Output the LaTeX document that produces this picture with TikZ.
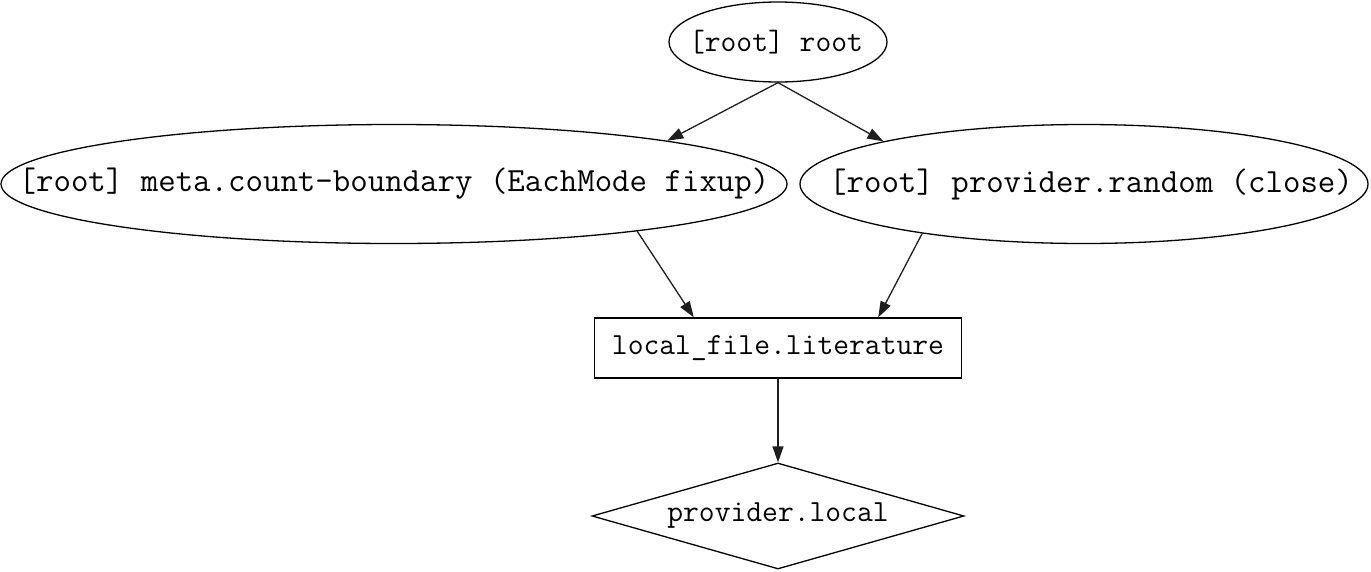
\documentclass[tikz,border=0pt]{standalone}
\usepackage{fontspec}
\usetikzlibrary{shapes.geometric,arrows.meta}
\tikzset{
  base/.style={draw, line width=1.3pt, inner sep=0pt},
  ell/.style={base, ellipse},
  edge/.style={line width=1.3pt, draw=black!88, -{Triangle[length=16pt,width=11pt]}},
  fA/.style={font=\ttfamily\fontsize{30.7}{36}\selectfont},
  fB/.style={font=\ttfamily\fontsize{33.9}{39}\selectfont},
  fC/.style={font=\ttfamily\fontsize{30.7}{36}\selectfont},
}
\begin{document}
\begin{tikzpicture}[x=1pt,y=-1pt]
\useasboundingbox (0,0) rectangle (1371,571);
\node[ell, minimum width=218pt, minimum height=80pt,
      label={[fA, xshift=-2pt]center:[root] root}] (root) at (778,42) {};
\node[ell, minimum width=786pt, minimum height=119pt,
      label={[fB]center:[root] meta.count-boundary (EachMode fixup)}] (meta) at (394,184) {};
\node[ell, minimum width=568pt, minimum height=119pt,
      label={[fB, xshift=7pt]center:[root] provider.random (close)}] (random) at (1084,184) {};
\node[base, rectangle, minimum width=367pt, minimum height=60pt, fC] (lit) at (778,348) {local\_file.literature};
\node[base, diamond, shape aspect=3.5, minimum width=372pt, minimum height=106pt, fC] (local) at (778,516) {provider.local};
\draw[edge] (root.south) -- (meta.9.3);
\draw[edge] (root.south) -- (random.168.6);
\draw[edge] (meta.-11.4) -- (lit.160.6);
\draw[edge] (random.197) -- (lit.17.4);
\draw[edge] (lit.south) -- (local.north);
\end{tikzpicture}
\end{document}
